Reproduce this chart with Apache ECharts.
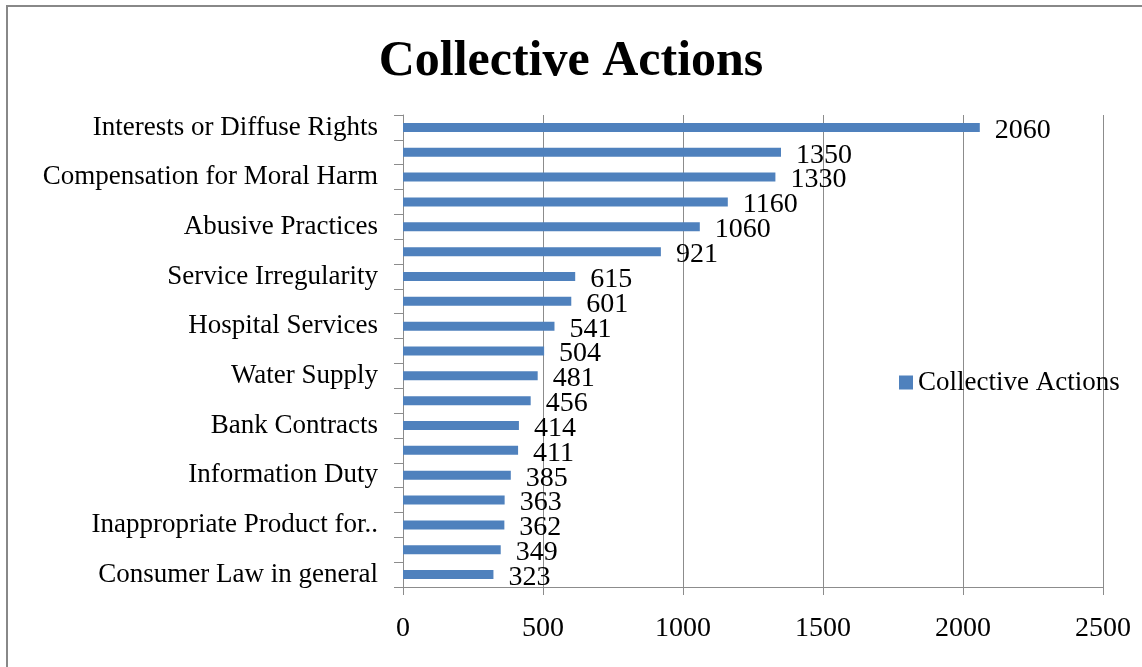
<!DOCTYPE html>
<html>
<head>
<meta charset="utf-8">
<title>Collective Actions</title>
<script src="https://cdn.jsdelivr.net/npm/echarts@6/dist/echarts.min.js"></script>
<style>
  html, body { margin: 0; padding: 0; background: #ffffff; }
  #chart { width: 1142px; height: 667px; }
</style>
</head>
<body>
<div id="chart"></div>
<script>
// Subject categories, top to bottom (unlabelled rows keep an empty name)
var categories = [
  'Interests or Diffuse Rights', '',
  'Compensation for Moral Harm', '',
  'Abusive Practices', '',
  'Service Irregularity', '',
  'Hospital Services', '',
  'Water Supply', '',
  'Bank Contracts', '',
  'Information Duty', '',
  'Inappropriate Product for..', '',
  'Consumer Law in general'
];

// Number of collective actions per subject
var actionCounts = [2060, 1350, 1330, 1160, 1060, 921, 615, 601, 541, 504,
                    481, 456, 414, 411, 385, 363, 362, 349, 323];

// Value axis ticks
var valueTicks = [0, 500, 1000, 1500, 2000, 2500];

var seriesName = 'Collective Actions';
var FONT = '"Liberation Serif", "DejaVu Serif", serif';
var GRAY = '#8c8c8c';

var chart = echarts.init(document.getElementById('chart'), null, { renderer: 'canvas' });

chart.setOption({
  backgroundColor: '#ffffff',
  animation: false,
  title: {
    text: 'Collective Actions',
    left: 'center',
    top: 32,
    textStyle: { fontFamily: FONT, fontWeight: 'bold', fontSize: 50, color: '#000000' }
  },
  legend: {
    data: [seriesName],
    left: 894,
    top: 364,
    itemWidth: 14,
    itemHeight: 14,
    itemGap: 6,
    icon: 'rect',
    textStyle: { fontFamily: FONT, fontSize: 27, color: '#000000' }
  },
  grid: { left: 403, right: 39, top: 115, bottom: 80, containLabel: false },
  xAxis: {
    type: 'value',
    min: valueTicks[0],
    max: valueTicks[valueTicks.length - 1],
    interval: valueTicks[1] - valueTicks[0],
    axisLine: { show: true, lineStyle: { color: GRAY, width: 1 } },
    axisTick: { show: true, length: 8, lineStyle: { color: GRAY } },
    splitLine: { show: true, lineStyle: { color: GRAY, width: 1 } },
    axisLabel: {
      fontFamily: FONT, fontSize: 28, color: '#000000', margin: 28,
      formatter: function (v) { return String(v); }
    }
  },
  yAxis: {
    type: 'category',
    inverse: true,
    data: categories,
    axisLine: { show: true, lineStyle: { color: GRAY, width: 1 } },
    axisTick: { show: true, interval: 0, length: 9, lineStyle: { color: GRAY } },
    axisLabel: {
      interval: 0, fontFamily: FONT, fontSize: 27, color: '#000000', margin: 25,
      padding: [4, 0, 0, 0]
    }
  },
  series: [{
    name: seriesName,
    type: 'bar',
    data: actionCounts,
    barWidth: 9,
    itemStyle: { color: '#4f81bd' },
    label: {
      show: true,
      position: 'right',
      distance: 15,
      offset: [0, 3],
      fontFamily: FONT,
      fontSize: 28,
      color: '#000000'
    }
  }],
  graphic: [{
    type: 'rect',
    shape: { x: 7, y: 6, width: 1145, height: 670 },
    style: { fill: null, stroke: '#888888', lineWidth: 2 },
    silent: true
  }]
});
</script>
</body>
</html>
